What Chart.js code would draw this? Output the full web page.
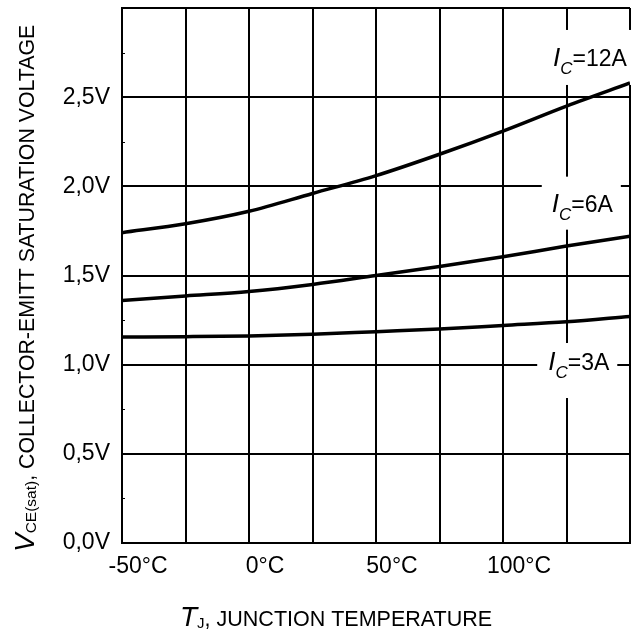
<!DOCTYPE html>
<html>
<head>
<meta charset="utf-8">
<script src="https://cdn.jsdelivr.net/npm/chart.js@4"></script>
<style>
  html, body { margin: 0; padding: 0; background: #fff; }
  #wrap { width: 634px; height: 630px; }
</style>
</head>
<body>
<div id="wrap"><canvas id="vcechart" width="634" height="630"></canvas></div>
<script>
// junction temperature (°C) and saturation voltage (V)
var temps = [-50, -25, 0, 25, 50, 75, 100, 125, 150];
var vce12 = [1.74, 1.79, 1.86, 1.96, 2.06, 2.18, 2.31, 2.45, 2.58];
var vce6  = [1.36, 1.385, 1.41, 1.45, 1.50, 1.55, 1.605, 1.665, 1.72];
var vce3  = [1.155, 1.157, 1.161, 1.17, 1.185, 1.20, 1.22, 1.24, 1.27];

var xTickLabels = [-50, 0, 50, 100];
var curveNames = ['12A', '6A', '3A'];
// label anchor: temperature of text start, voltage of baseline
var labelTemps = [119.7, 119.2, 117.8];
var labelVolts = [2.675, 1.858, 0.97];

var FONT = '"Liberation Sans", Arial, Helvetica, sans-serif';

function pts(vals) {
  return temps.map(function(t, i) { return { x: t, y: vals[i] }; });
}

function curve(vals) {
  return {
    data: pts(vals),
    borderColor: '#000',
    borderWidth: 3.5,
    pointRadius: 0,
    fill: false,
    cubicInterpolationMode: 'monotone'
  };
}

// white boxes + I_C labels, drawn over the grid but under the curves
var curveLabels = {
  id: 'curveLabels',
  beforeDatasetsDraw: function(chart) {
    var ctx = chart.ctx, xs = chart.scales.x, ys = chart.scales.y;
    var pads = [
      { l: 13, r: null, t: 36, b: 19 },
      { l: 10, r: 8, t: 35, b: 18 },
      { l: 11, r: 8, t: 27, b: 28 }
    ];
    ctx.save();
    curveNames.forEach(function(name, i) {
      var x = xs.getPixelForValue(labelTemps[i]);
      var y = ys.getPixelForValue(labelVolts[i]);
      ctx.font = 'italic 26px ' + FONT;
      var wI = ctx.measureText('I').width;
      ctx.font = 'italic 17px ' + FONT;
      var wC = ctx.measureText('C').width;
      ctx.font = '23px ' + FONT;
      var wR = ctx.measureText('=' + name).width;
      var p = pads[i];
      var left = x - p.l;
      var right = p.r === null ? chart.width : x + wI + wC + wR + p.r;
      ctx.fillStyle = '#fff';
      ctx.fillRect(left, y - p.t, right - left, p.t + p.b);

      ctx.fillStyle = '#000';
      ctx.textBaseline = 'alphabetic';
      ctx.textAlign = 'left';
      ctx.font = 'italic 26px ' + FONT;
      ctx.fillText('I', x, y);
      ctx.font = 'italic 17px ' + FONT;
      ctx.fillText('C', x + wI, y + 8);
      ctx.font = '23px ' + FONT;
      ctx.fillText('=' + name, x + wI + wC, y);
    });
    ctx.restore();
  }
};

// axis titles with italic symbols and subscripts, plus the small minor ticks on the y axis
var axisTitles = {
  id: 'axisTitles',
  afterDraw: function(chart) {
    var ctx = chart.ctx, ys = chart.scales.y, area = chart.chartArea;
    ctx.save();
    ctx.fillStyle = '#000';
    ctx.strokeStyle = '#000';
    ctx.textBaseline = 'alphabetic';
    ctx.textAlign = 'left';

    // minor ticks
    ctx.lineWidth = 1;
    for (var v = 0.25; v < 3; v += 0.5) {
      var py = Math.round(ys.getPixelForValue(v)) + 0.5;
      ctx.beginPath();
      ctx.moveTo(area.left, py);
      ctx.lineTo(area.left + 3, py);
      ctx.stroke();
    }

    // x title
    var x = 180, base = 626;
    ctx.font = 'italic 28px ' + FONT;
    ctx.fillText('T', x, base);
    x += ctx.measureText('T').width;
    ctx.font = '15px ' + FONT;
    ctx.fillText('J', x, base + 2);
    x += ctx.measureText('J').width;
    ctx.font = '21.5px ' + FONT;
    ctx.fillText(', JUNCTION TEMPERATURE', x, base);

    // y title, reads bottom to top
    ctx.translate(33.5, 552);
    ctx.rotate(-Math.PI / 2);
    x = 0;
    ctx.font = 'italic 28px ' + FONT;
    ctx.fillText('V', x, 0);
    x += ctx.measureText('V').width;
    ctx.font = '15.5px ' + FONT;
    ctx.fillText('CE(sat)', x, 2);
    x += ctx.measureText('CE(sat)').width;
    ctx.font = '21.3px ' + FONT;
    ctx.fillText(', COLLECTOR-EMITT SATURATION VOLTAGE', x, 0);
    ctx.restore();
  }
};

var ctxv = document.getElementById('vcechart').getContext('2d');
var vcechart = new Chart(ctxv, {
  type: 'line',
  data: {
    datasets: [curve(vce12), curve(vce6), curve(vce3)]
  },
  options: {
    responsive: false,
    animation: false,
    layout: { padding: { top: 8, right: 4, left: 0, bottom: 0 } },
    plugins: {
      legend: { display: false },
      tooltip: { enabled: false }
    },
    scales: {
      x: {
        type: 'linear',
        min: -50,
        max: 150,
        afterFit: function(s) {
          s.height = 87;
          s.paddingLeft = 0;
          s.paddingRight = 0;
        },
        grid: { color: '#000', lineWidth: 2, drawTicks: false },
        border: { color: '#000', width: 2 },
        ticks: {
          stepSize: 25,
          autoSkip: false,
          maxRotation: 0,
          labelOffset: 16,
          padding: 10,
          color: '#000',
          font: { family: FONT, size: 23 },
          callback: function(v) {
            return xTickLabels.indexOf(v) >= 0 ? v + '°C' : '';
          }
        }
      },
      y: {
        min: 0,
        max: 3,
        afterFit: function(s) {
          s.width = 122;
          s.paddingTop = 0;
          s.paddingBottom = 0;
        },
        grid: { color: '#000', lineWidth: 2, drawTicks: false },
        border: { color: '#000', width: 2 },
        ticks: {
          stepSize: 0.5,
          padding: 12,
          color: '#000',
          font: { family: FONT, size: 23 },
          callback: function(v) {
            return v >= 3 ? '' : v.toFixed(1).replace('.', ',') + 'V';
          }
        }
      }
    }
  },
  plugins: [curveLabels, axisTitles]
});
</script>
</body>
</html>
